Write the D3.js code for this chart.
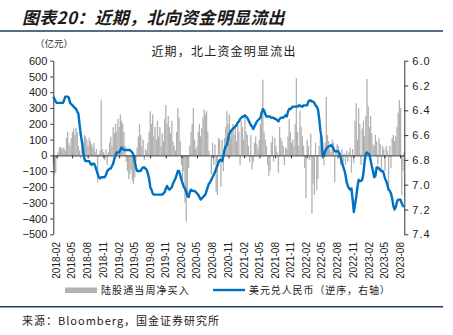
<!DOCTYPE html>
<html><head><meta charset="utf-8">
<script src="https://cdn.jsdelivr.net/npm/d3@7"></script>
<style>body{margin:0;background:#fff}svg{display:block}</style>
</head><body>
<svg id="c" width="453" height="335"></svg>
<script>
// ---- data ----
const firstWeek = "2018-01-12";   // weekly observations (Fridays)
const flows = [ // 陆股通当周净买入 (亿元)
-60,-120,-110,-20,20,50,55,40,50,45,
30,110,150,80,60,110,150,170,130,175,
150,60,30,-20,40,80,130,120,100,60,
110,90,70,50,80,20,40,-170,10,30,
350,40,20,-30,40,-60,20,80,120,60,
180,140,200,150,230,180,260,220,200,150,
60,-40,-100,-150,-120,-90,-160,-180,-140,-40,
50,120,200,130,60,100,-30,40,30,80,
150,280,200,260,120,180,100,220,120,180,
60,140,90,230,320,200,250,180,140,220,
90,60,30,150,300,240,90,-60,-150,-100,
-300,-420,-250,-80,60,150,200,300,100,40,
60,150,200,120,170,240,290,260,280,150,
30,0,-120,80,-60,70,-230,-250,110,100,
-200,100,-100,110,180,280,200,260,120,160,
200,130,180,90,200,150,-60,220,180,100,
250,150,130,60,-40,130,-90,-40,80,120,
70,40,100,200,260,480,150,100,60,-60,
-130,-100,80,120,-40,110,60,20,-110,180,
110,90,60,-60,50,40,120,230,150,80,
100,60,200,490,150,60,280,180,120,60,
-80,-270,100,60,-30,140,-370,-180,-250,80,
-220,-150,60,120,60,30,-60,80,370,130,
90,40,20,100,80,-170,30,70,60,20,
-60,40,-50,10,-60,30,-40,20,50,-110,
40,-50,220,330,100,300,200,-60,170,220,
120,250,485,310,180,250,140,70,60,130,
90,-60,110,70,-90,60,40,-100,60,30,
-190,60,-80,110,130,90,120,180,270,350,
300,-250,-100,20];
const usdcny = [ // 美元兑人民币
6.29,6.31,6.33,6.34,6.34,6.34,6.34,6.34,6.34,6.32,
6.29,6.29,6.29,6.30,6.34,6.35,6.36,6.37,6.38,6.39,
6.41,6.43,6.52,6.60,6.66,6.74,6.79,6.81,6.81,6.81,
6.81,6.83,6.84,6.83,6.83,6.85,6.88,6.91,6.94,6.95,
6.94,6.94,6.94,6.94,6.92,6.89,6.88,6.87,6.87,6.85,
6.83,6.79,6.76,6.74,6.74,6.74,6.72,6.70,6.71,6.72,
6.72,6.72,6.72,6.72,6.72,6.73,6.74,6.76,6.81,6.86,
6.89,6.89,6.89,6.89,6.87,6.86,6.86,6.87,6.88,6.91,
6.95,7.02,7.04,7.07,7.08,7.08,7.08,7.08,7.08,7.08,
7.08,7.08,7.07,7.06,7.03,7.01,7.03,7.04,7.03,7.02,
6.99,6.97,6.95,6.92,6.89,6.89,6.92,6.96,6.99,7.02,
7.03,7.06,7.09,7.10,7.06,7.04,7.05,7.05,7.05,7.06,
7.07,7.08,7.10,7.12,7.11,7.10,7.09,7.08,7.05,7.02,
6.99,6.98,6.96,6.94,6.92,6.90,6.87,6.85,6.82,6.80,
6.80,6.81,6.77,6.72,6.69,6.68,6.63,6.59,6.57,6.56,
6.55,6.54,6.53,6.52,6.50,6.49,6.47,6.46,6.45,6.45,
6.44,6.45,6.46,6.48,6.50,6.52,6.53,6.55,6.53,6.51,
6.49,6.48,6.47,6.46,6.42,6.39,6.40,6.43,6.45,6.45,
6.45,6.45,6.46,6.46,6.46,6.47,6.47,6.48,6.49,6.47,
6.46,6.46,6.46,6.45,6.44,6.45,6.41,6.39,6.39,6.38,
6.37,6.37,6.37,6.37,6.37,6.36,6.36,6.37,6.37,6.36,
6.36,6.36,6.36,6.33,6.32,6.32,6.33,6.33,6.34,6.36,
6.37,6.39,6.46,6.56,6.62,6.76,6.77,6.73,6.71,6.70,
6.69,6.69,6.68,6.69,6.71,6.73,6.73,6.73,6.73,6.75,
6.78,6.82,6.85,6.88,6.92,6.98,7.01,7.03,7.04,7.03,
7.12,7.22,7.16,7.10,7.02,6.96,6.97,6.97,6.96,6.91,
6.81,6.75,6.74,6.75,6.76,6.80,6.85,6.89,6.94,6.93,
6.86,6.86,6.87,6.88,6.89,6.89,6.91,6.95,6.97,7.00,
7.04,7.05,7.07,7.11,7.17,7.20,7.18,7.14,7.12,7.12,
7.12,7.15,7.17,7.18];
const leftTicks = [600,500,400,300,200,100,0,-100,-200,-300,-400,-500];
const rightTicks = [6.0,6.2,6.4,6.6,6.8,7.0,7.2,7.4];
const xTickLabels = ["2018-02","2018-05","2018-08","2018-11","2019-02","2019-05","2019-08","2019-11",
  "2020-02","2020-05","2020-08","2020-11","2021-02","2021-05","2021-08","2021-11",
  "2022-02","2022-05","2022-08","2022-11","2023-02","2023-05","2023-08"];
const seriesNames = ["陆股通当周净买入","美元兑人民币（逆序，右轴）"];

// ---- drawing ----
const parse = d3.timeParse("%Y-%m-%d");
const parseM = d3.timeParse("%Y-%m");
const t0 = parse(firstWeek);
const dates = flows.map((_, i) => d3.timeDay.offset(t0, 7 * i));

const svg = d3.select("#c");
const CJK = "'Noto Sans CJK SC', sans-serif";
const NUM = "'Liberation Sans', Arial, sans-serif";

const x = d3.scaleTime().domain([parse("2018-01-12"), parse("2023-08-26")]).range([53.3, 404.3]);
const yL = d3.scaleLinear().domain([-500, 600]).range([234.3, 60.7]);
const yR = d3.scaleLinear().domain([6.0, 7.4]).range([60.7, 234.3]);

// title
svg.append("text").attr("x", 22).attr("y", 24)
  .attr("font-family", CJK).attr("font-size", 17).attr("font-weight", "bold")
  .attr("font-style", "italic").attr("letter-spacing", 0.3).attr("fill", "#1a1a1a")
  .text("图表20：近期，北向资金明显流出");
svg.append("line").attr("x1", 0).attr("x2", 443).attr("y1", 31).attr("y2", 31)
  .attr("stroke", "#1f3b5c").attr("stroke-width", 1.5);

svg.append("text").attr("x", 35).attr("y", 47)
  .attr("font-family", CJK).attr("font-size", 9.5).attr("fill", "#333").text("（亿元）");
svg.append("text").attr("x", 224).attr("y", 56).attr("text-anchor", "middle")
  .attr("font-family", CJK).attr("font-size", 12).attr("letter-spacing", 1.2).attr("fill", "#222")
  .text("近期，北上资金明显流出");

// bars
const bw = 1.3;
svg.append("g").selectAll("rect").data(flows).join("rect")
  .attr("x", (d, i) => x(dates[i]) - bw / 2)
  .attr("y", d => yL(Math.max(0, d)))
  .attr("width", bw)
  .attr("height", d => Math.abs(yL(d) - yL(0)))
  .attr("fill", "#b2b2b2");

// zero baseline with quarterly ticks
const qDates = xTickLabels.map(s => parseM(s));
const xa = svg.append("g").attr("transform", `translate(0,${yL(0)})`)
  .call(d3.axisBottom(x).tickValues(qDates).tickSize(3).tickSizeOuter(0).tickFormat(""));
xa.select(".domain").attr("stroke", "#333");
xa.selectAll(".tick line").attr("stroke", "#333");

// bottom rotated labels
svg.append("g").selectAll("text").data(qDates).join("text")
  .attr("transform", d => `translate(${x(d)},242) rotate(-90)`)
  .attr("text-anchor", "end").attr("dy", "0.35em")
  .attr("font-family", NUM).attr("font-size", 10).attr("fill", "#222")
  .text((d, i) => xTickLabels[i]);

// left axis
const la = svg.append("g").attr("transform", "translate(53.3,0)")
  .call(d3.axisLeft(yL).tickValues(leftTicks).tickSize(3).tickSizeOuter(0).tickFormat(d3.format("d")));
la.selectAll("text").attr("font-family", NUM).attr("font-size", 11).attr("fill", "#222");
la.select(".domain").attr("stroke", "#333");
la.selectAll(".tick line").attr("stroke", "#333");

// right axis
const ra = svg.append("g").attr("transform", "translate(404.3,0)")
  .call(d3.axisRight(yR).tickValues(rightTicks).tickSize(4).tickSizeOuter(0).tickFormat(d3.format(".1f")));
ra.selectAll("text").attr("font-family", NUM).attr("font-size", 11).attr("letter-spacing", 1).attr("fill", "#222").attr("x", 8);
ra.select(".domain").attr("stroke", "#333");
ra.selectAll(".tick line").attr("stroke", "#333");

// line
svg.append("path").datum(usdcny)
  .attr("fill", "none").attr("stroke", "#0070c0").attr("stroke-width", 2.4)
  .attr("stroke-linejoin", "round")
  .attr("d", d3.line().x((d, i) => x(dates[i])).y(d => yR(d)));

// legend
svg.append("rect").attr("x", 65).attr("y", 287.5).attr("width", 32).attr("height", 5.5).attr("fill", "#b2b2b2");
svg.append("text").attr("x", 101).attr("y", 294).attr("font-family", CJK).attr("font-size", 10)
  .attr("letter-spacing", 1.1).attr("fill", "#222").text(seriesNames[0]);
svg.append("line").attr("x1", 213).attr("x2", 245).attr("y1", 290).attr("y2", 290)
  .attr("stroke", "#0070c0").attr("stroke-width", 2.4);
svg.append("text").attr("x", 249).attr("y", 294).attr("font-family", CJK).attr("font-size", 10)
  .attr("letter-spacing", 0.9).attr("fill", "#222").text(seriesNames[1]);

svg.append("line").attr("x1", 0).attr("x2", 443).attr("y1", 306.7).attr("y2", 306.7)
  .attr("stroke", "#1f3b5c").attr("stroke-width", 1.5);
svg.append("text").attr("x", 22).attr("y", 325).attr("font-family", CJK).attr("font-size", 11)
  .attr("letter-spacing", 1).attr("fill", "#222").text("来源：Bloomberg，国金证券研究所");
</script>
</body></html>
